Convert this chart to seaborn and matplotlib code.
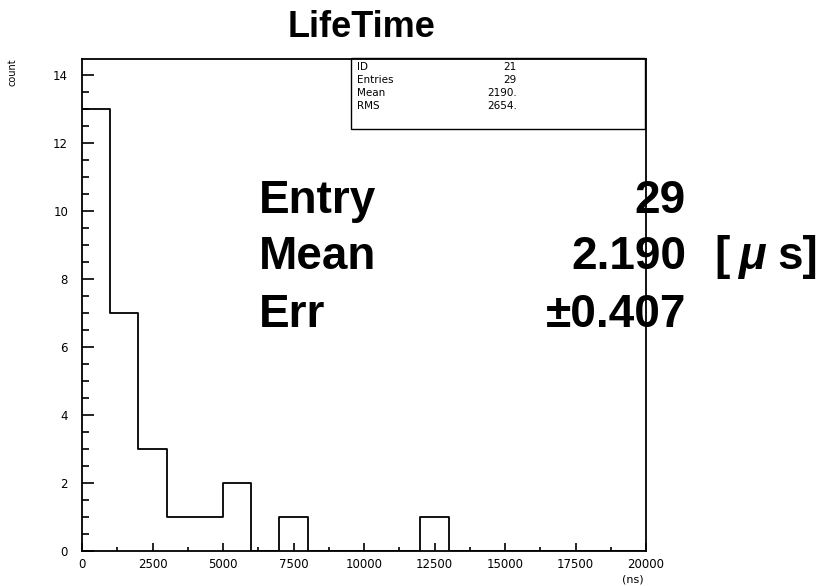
import numpy as np
import pandas as pd
import matplotlib
matplotlib.use("Agg")
import matplotlib.pyplot as plt
from matplotlib.patches import Rectangle
from matplotlib.ticker import MultipleLocator
import seaborn as sns

# Lifetime histogram: 1000 ns bins from 0 to 20000 ns
bin_edges = list(range(0, 20001, 1000))
bin_counts = [13, 7, 3, 1, 1, 2, 0, 1, 0, 0, 0, 0, 1, 0, 0, 0, 0, 0, 0, 0]
x_ticks = [0, 2500, 5000, 7500, 10000, 12500, 15000, 17500, 20000]
y_ticks = [0, 2, 4, 6, 8, 10, 12, 14]

stats_labels = ["ID", "Entries", "Mean", "RMS"]
stats_values = ["21", "29", "2190.", "2654."]

summary_labels = ["Entry", "Mean", "Err"]
summary_values = ["29", "2.190", "\u00b10.407"]

sns.set_style("ticks")
plt.rcParams["font.family"] = ["DejaVu Sans"]
plt.rcParams["text.color"] = "black"
plt.rcParams["xtick.color"] = "black"
plt.rcParams["ytick.color"] = "black"
plt.rcParams["xtick.labelcolor"] = "black"
plt.rcParams["ytick.labelcolor"] = "black"

W, H = 826, 586
fig = plt.figure(figsize=(W / 100, H / 100), dpi=100)
ax = fig.add_axes([82 / W, 1 - 551 / H, (646 - 82) / W, (551 - 59) / H])

centers = [(a + b) / 2 for a, b in zip(bin_edges[:-1], bin_edges[1:])]
df = pd.DataFrame({"t": centers, "n": bin_counts})
sns.histplot(data=df, x="t", weights="n", bins=bin_edges, element="step",
             fill=False, color="black", linewidth=1.3, ax=ax)

ax.set_xlim(0, 20000)
ax.set_ylim(0, 14.47)
ax.set_xticks(x_ticks)
ax.set_xticklabels([str(v) for v in x_ticks])
ax.set_yticks(y_ticks)
ax.set_yticklabels([str(v) for v in y_ticks])
ax.xaxis.set_minor_locator(MultipleLocator(1250))
ax.yaxis.set_minor_locator(MultipleLocator(0.5))
ax.tick_params(axis="x", which="major", direction="in", length=6, width=1.2,
               labelsize=8.5, pad=5)
ax.tick_params(axis="x", which="minor", direction="in", length=3, width=1.2)
ax.tick_params(axis="y", which="major", direction="in", length=8.5, width=1.2,
               labelsize=8.5, pad=10)
ax.tick_params(axis="y", which="minor", direction="in", length=5, width=1.2)
ax.set_xlabel("")
ax.set_ylabel("")
for side in ["top", "right", "left", "bottom"]:
    ax.spines[side].set_visible(True)
    ax.spines[side].set_linewidth(1.3)
    ax.spines[side].set_color("black")

# Statistics box in the upper right corner
box = Rectangle((351 / W, 1 - 129 / H), (645 - 351) / W, (129 - 58) / H,
                transform=fig.transFigure, fill=False, edgecolor="black",
                linewidth=1.0, clip_on=False)
ax.add_patch(box)
row_y = [67, 80, 93, 106]
for lab, val, yy in zip(stats_labels, stats_values, row_y):
    fig.text(357 / W, 1 - yy / H, lab, ha="left", va="center", fontsize=7.5)
    fig.text(517 / W, 1 - yy / H, val, ha="right", va="center", fontsize=7.5)

# Large summary annotation, drawn beneath the spines
big = dict(fontsize=33, fontweight="bold", family=["Liberation Sans", "DejaVu Sans"],
           va="baseline", transform=fig.transFigure, zorder=2, color="black")
base_y = [213, 269, 327]
for lab, val, yy in zip(summary_labels, summary_values, base_y):
    ax.text(259 / W, 1 - yy / H, lab, ha="left", **big)
    ax.text(686 / W, 1 - yy / H, val, ha="right", **big)
# unit of the mean: [ μ s]
ax.text(714 / W, 1 - 269 / H, "[", ha="left", **big)
ax.text(738 / W, 1 - 269 / H, "\u03bc", ha="left", style="italic", **big)
ax.text(777 / W, 1 - 269 / H, "s]", ha="left", **big)

fig.text(362 / W, 1 - 37 / H, "LifeTime", ha="center", va="baseline",
         fontsize=26, fontweight="bold", family=["Liberation Sans", "DejaVu Sans"])
fig.text(13 / W, 1 - 58 / H, "count", rotation=90, ha="center", va="top",
         fontsize=7)
fig.text(633 / W, 1 - 580 / H, "(ns)", ha="center", va="center", fontsize=8)

fig.savefig("out.png", dpi=100)
